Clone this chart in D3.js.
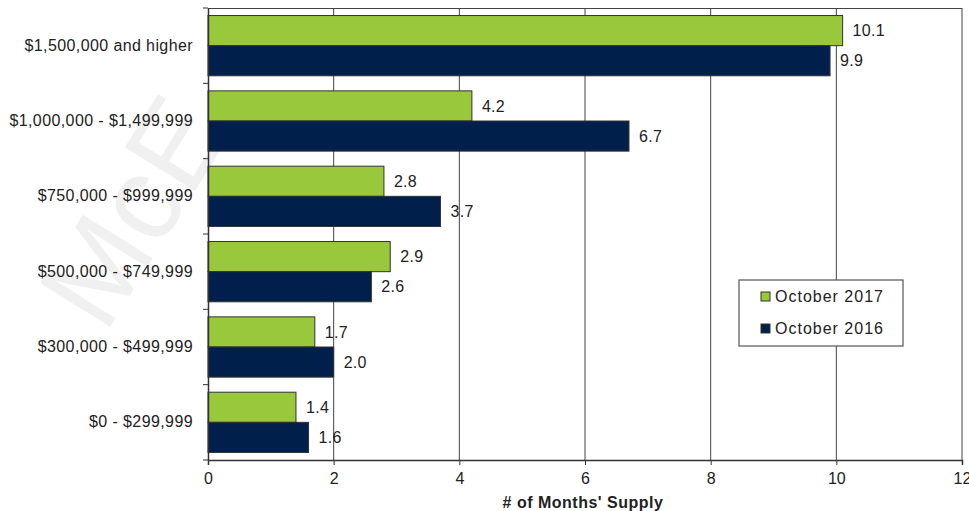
<!DOCTYPE html>
<html>
<head>
<meta charset="utf-8">
<script src="https://cdn.jsdelivr.net/npm/d3@7"></script>
<style>
body{margin:0;background:#fff;}
text{font-family:"Liberation Sans",Arial,sans-serif;fill:#222;}
</style>
</head>
<body>
<div id="chart"></div>
<script>
var categories=["$1,500,000 and higher","$1,000,000 - $1,499,999","$750,000 - $999,999","$500,000 - $749,999","$300,000 - $499,999","$0 - $299,999"];
var oct2017=[10.1,4.2,2.8,2.9,1.7,1.4];
var oct2016=[9.9,6.7,3.7,2.6,2.0,1.6];
var seriesNames=["October 2017","October 2016"];
var seriesColors=["#99c83c","#011f4b"];
var xTicks=[0,2,4,6,8,10,12];

var W=969,H=511;
var m={left:208,right:7,top:8,bottom:51};

var svg=d3.select("#chart").append("svg").attr("width",W).attr("height",H);

// faint watermark
svg.append("text")
	.attr("transform","translate(105,335) rotate(-58)")
	.attr("font-size",120)
	.style("fill","#f0f0f0")
	.text("McE");

var x=d3.scaleLinear().domain([0,12]).range([m.left,W-m.right]);
var y=d3.scaleBand().domain(categories).range([m.top,H-m.bottom]).paddingInner(0.2).paddingOuter(0.1);
var yFull=d3.scaleBand().domain(categories).range([m.top,H-m.bottom]);
var ySub=d3.scaleBand().domain(seriesNames).range([0,y.bandwidth()]);

// grid
svg.append("g").selectAll("line").data(xTicks.slice(1)).enter().append("line")
	.attr("x1",function(d){return x(d);}).attr("x2",function(d){return x(d);})
	.attr("y1",m.top).attr("y2",H-m.bottom)
	.attr("stroke","#444").attr("stroke-width",1);
svg.append("line").attr("x1",m.left).attr("x2",W-m.right).attr("y1",m.top+0.5).attr("y2",m.top+0.5)
	.attr("stroke","#444");

// bars
var data=[oct2017,oct2016];
data.forEach(function(vals,si){
	var g=svg.append("g");
	g.selectAll("rect").data(vals).enter().append("rect")
		.attr("x",x(0))
		.attr("y",function(d,i){return y(categories[i])+ySub(seriesNames[si]);})
		.attr("width",function(d){return x(d)-x(0);})
		.attr("height",ySub.bandwidth())
		.attr("fill",seriesColors[si])
		.attr("stroke","#333").attr("stroke-width",1);
	g.selectAll("text").data(vals).enter().append("text")
		.attr("x",function(d){return x(d)+10;})
		.attr("y",function(d,i){return y(categories[i])+ySub(seriesNames[si])+ySub.bandwidth()/2;})
		.attr("dy","0.36em")
		.attr("font-size",16)
		.style("letter-spacing","0.3px")
		.text(function(d){return d.toFixed(1);});
});

// axes
var xAxis=svg.append("g").attr("transform","translate(0,"+(H-m.bottom)+")")
	.call(d3.axisBottom(x).tickValues(xTicks).tickSize(5).tickPadding(8));
xAxis.select(".domain").attr("stroke","#333").attr("stroke-width",1.5);
xAxis.selectAll(".tick line").attr("stroke","#333");
xAxis.selectAll("text").attr("font-size",16).style("fill","#222");

var yAxis=svg.append("g").attr("transform","translate("+m.left+",0)")
	.call(d3.axisLeft(yFull).tickSize(0).tickPadding(15));
yAxis.select(".domain").attr("stroke","#333").attr("stroke-width",1.5);
yAxis.selectAll("text").attr("font-size",16).style("letter-spacing","0.4px").style("fill","#222");
// category separator ticks
svg.append("g").selectAll("line").data(categories.concat(["end"])).enter().append("line")
	.attr("x1",m.left-5).attr("x2",m.left)
	.attr("y1",function(d,i){return m.top+i*yFull.step();})
	.attr("y2",function(d,i){return m.top+i*yFull.step();})
	.attr("stroke","#333");

svg.append("text").attr("x",x(6)-2).attr("y",H-3).attr("text-anchor","middle")
	.attr("font-size",16).attr("font-weight","bold").style("letter-spacing","0.5px").text("# of Months' Supply");

// legend
var lg=svg.append("g").attr("transform","translate(739,280)");
lg.append("rect").attr("width",164).attr("height",66).attr("fill","#fff").attr("stroke","#555").attr("stroke-width",1.2);
seriesNames.forEach(function(s,i){
	lg.append("rect").attr("x",22).attr("y",12+i*32).attr("width",9).attr("height",9)
		.attr("fill",seriesColors[i]).attr("stroke","#333");
	lg.append("text").attr("x",36).attr("y",16.5+i*32).attr("dy","0.36em").attr("font-size",16)
		.style("letter-spacing","1px").text(s);
});
</script>
</body>
</html>
